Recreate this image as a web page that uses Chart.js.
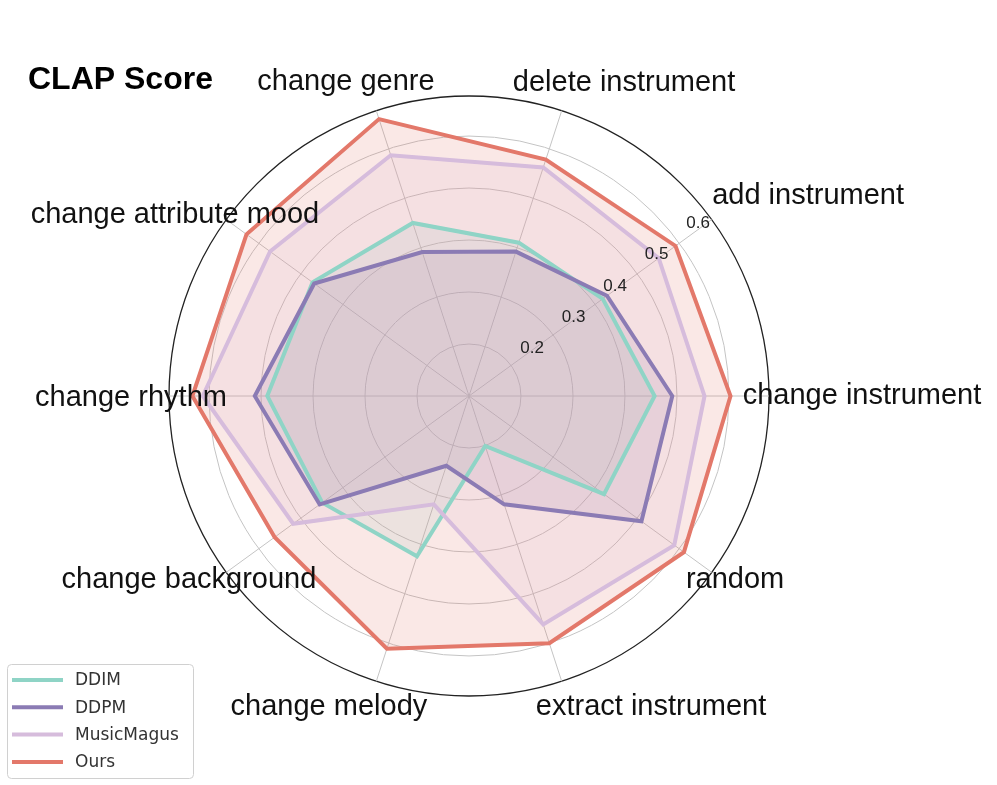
<!DOCTYPE html>
<html>
<head>
<meta charset="utf-8">
<title>CLAP Score</title>
<script src="https://cdn.jsdelivr.net/npm/chart.js@4.4.1/dist/chart.umd.min.js"></script>
<style>
  html, body { margin: 0; padding: 0; background: #fff; }
  canvas { display: block; }
</style>
</head>
<body>
<canvas id="clap-chart" width="997" height="785"></canvas>
<script>

// categories, clockwise starting from the right hand side
const labels = [
    'change instrument', 'random', 'extract instrument', 'change melody',
    'change background', 'change rhythm', 'change attribute mood',
    'change genre', 'delete instrument', 'add instrument'
];

const ddim       = [0.457, 0.421, 0.201, 0.424, 0.449, 0.488, 0.472, 0.450, 0.410, 0.418];
const ddpm       = [0.491, 0.510, 0.319, 0.241, 0.455, 0.512, 0.468, 0.391, 0.392, 0.428];
const musicMagus = [0.553, 0.588, 0.562, 0.319, 0.518, 0.612, 0.573, 0.587, 0.562, 0.551];
const ours       = [0.603, 0.611, 0.600, 0.611, 0.562, 0.632, 0.629, 0.660, 0.578, 0.591];

const tickValues = [0.2, 0.3, 0.4, 0.5, 0.6];
const scaleMin = 0.1,
    scaleMax = 0.677;

// small shifts so the category labels sit where the original put them
const labelNudge = [
    [53, 0], [-9, -16], [77, -12], [-35, -12], [-5, -16],
    [2, 2], [-19, 19], [-18, 9], [50, 10], [64, 0]
];

const FONT = '"Liberation Sans", Arial, Helvetica, sans-serif';

const overlay = {
    id: 'overlay',
    afterDraw(chart) {
        const c = chart.ctx;
        const r = chart.scales.r;
        c.save();

        // category names
        c.font = '29px ' + FONT;
        c.fillStyle = '#111';
        c.textAlign = 'center';
        c.textBaseline = 'middle';
        labels.forEach((txt, i) => {
            const p = r.getPointPosition(i, r.drawingArea + 40);
            c.fillText(txt, p.x + labelNudge[i][0], p.y + labelNudge[i][1]);
        });

        // radial tick labels, along a slanted line like matplotlib
        c.font = '17px ' + FONT;
        c.fillStyle = '#222';
        const a = 37 * Math.PI / 180;
        tickValues.forEach(v => {
            const d = r.getDistanceFromCenterForValue(v) + 27;
            c.fillText(v.toFixed(1), r.xCenter + Math.cos(a) * d, r.yCenter - Math.sin(a) * d);
        });

        // title
        c.font = 'bold 32px ' + FONT;
        c.fillStyle = '#000';
        c.textAlign = 'left';
        c.fillText('CLAP Score', 28, 80);

        // legend box
        c.strokeStyle = '#d0d0d0';
        c.lineWidth = 1;
        c.beginPath();
        c.roundRect(7.5, 664.5, 186, 114, 4);
        c.stroke();

        c.font = '17px "DejaVu Sans", sans-serif';
        c.fillStyle = '#333';
        chart.data.datasets.forEach((ds, i) => {
            const y = 680 + i * 27.3;
            c.strokeStyle = ds.borderColor;
            c.lineWidth = 4;
            c.beginPath();
            c.moveTo(12, y);
            c.lineTo(63, y);
            c.stroke();
            c.fillText(ds.label, 75, y + 1);
        });

        c.restore();
    }
};

const ctx = document.getElementById('clap-chart').getContext('2d');
const clapChart = new Chart(ctx, {
    type: 'radar',
    data: {
        labels: labels,
        datasets: [
            {
                label: 'DDIM',
                data: ddim,
                borderColor: '#8fd4c6',
                backgroundColor: 'rgba(141, 211, 199, 0.15)',
                fill: true,
                order: 3
            },
            {
                label: 'DDPM',
                data: ddpm,
                borderColor: '#8b7bb4',
                backgroundColor: 'rgba(139, 123, 180, 0.17)',
                fill: true,
                order: 2
            },
            {
                label: 'MusicMagus',
                data: musicMagus,
                borderColor: '#d6bcdc',
                backgroundColor: 'rgba(214, 188, 220, 0.15)',
                fill: true,
                order: 1
            },
            {
                label: 'Ours',
                data: ours,
                borderColor: '#e3786a',
                backgroundColor: 'rgba(227, 120, 106, 0.17)',
                fill: true,
                order: 0
            }
        ]
    },
    options: {
        responsive: false,
        animation: false,
        layout: {
            padding: { left: 169, right: 228, top: 96, bottom: 89 }
        },
        plugins: {
            legend: { display: false },
            tooltip: { enabled: false },
            title: { display: false },
            // all fills first, then every outline on top
            filler: { drawTime: 'beforeDatasetsDraw' }
        },
        elements: {
            line: { borderWidth: 4, tension: 0 },
            point: { radius: 0, hoverRadius: 0 }
        },
        scales: {
            r: {
                min: scaleMin,
                max: scaleMax,
                startAngle: 90,
                ticks: { display: false, stepSize: 0.1 },
                pointLabels: { display: false },
                grid: {
                    circular: true,
                    color: c => c.tick && c.tick.value >= scaleMax - 1e-6 ? '#222' : '#c4c4c4',
                    lineWidth: c => c.tick && c.tick.value >= scaleMax - 1e-6 ? 1.3 : 1
                },
                angleLines: { color: '#c4c4c4', lineWidth: 1 }
            }
        }
    },
    plugins: [overlay]
});
</script>
</body>
</html>
